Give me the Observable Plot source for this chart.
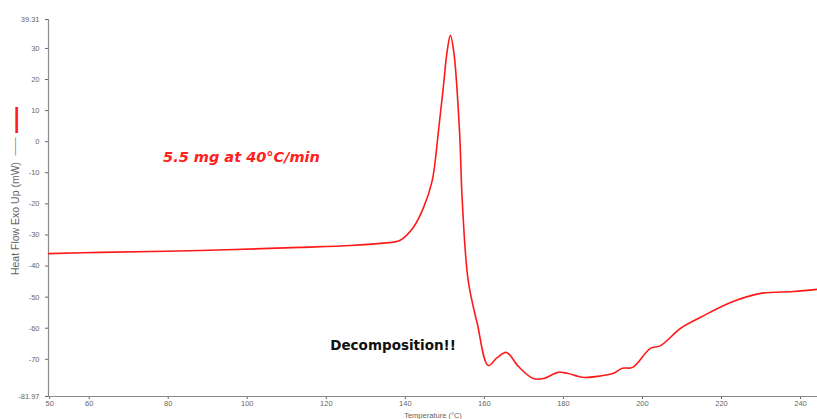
<!DOCTYPE html>
<html>
<head>
<meta charset="utf-8">
<script src="https://cdn.jsdelivr.net/npm/d3@7"></script>
<script src="https://cdn.jsdelivr.net/npm/@observablehq/plot@0.6"></script>
<style>
  html, body { margin: 0; padding: 0; background: #fff; }
  #chart { width: 817px; height: 419px; overflow: hidden; }
</style>
</head>
<body>
<div id="chart"></div>
<script>
// Temperature (°C)
const temperature = [49.7, 62.8, 88.1, 113.4, 126.1, 133.7, 138.7, 142.0, 144.6, 146.8,
  148.4, 149.6, 150.6, 151.4, 152.3, 153.7, 154.4, 155.9, 158.2,
  161.0, 163.3, 165.6, 168.6, 172.4, 174.9, 178.7, 181.0, 184.8, 188.6,
  192.7, 194.9, 197.5, 202.0, 204.6, 209.6, 214.7, 222.3, 229.9, 238.2, 244.3];
// Heat Flow (mW)
const heatFlow = [-36.0, -35.6, -35.0, -34.0, -33.4, -32.7, -31.7, -27.6, -21.2, -12.5,
  3.6, 17.4, 29.3, 34.2, 28.5, 3.6, -18.9, -44.6, -58.5,
  -72.0, -69.4, -67.8, -72.3, -76.2, -76.2, -74.2, -74.5, -75.8, -75.5,
  -74.5, -72.9, -72.6, -66.5, -65.6, -60.1, -56.5, -51.7, -48.8, -48.2, -47.5];
const xTicks = [50, 60, 80, 100, 120, 140, 160, 180, 200, 220, 240];
const yTicks = [-81.97, -70, -60, -50, -40, -30, -20, -10, 0, 10, 20, 30, 39.31];
const xDomain = [49.7, 244.3];
const yDomain = [-81.97, 39.31];
const annotations = [
  {t: 78.7, v: -5.1, label: "5.5 mg at 40°C/min", kind: "rate"},
  {t: 121, v: -65.5, label: "Decomposition!!", kind: "note"}
];

const data = temperature.map((t, i) => ({t, v: heatFlow[i]}));
const grey = "#8a8a8a";
const font = "Liberation Sans, Arial, sans-serif";

const chart = Plot.plot({
  width: 817,
  height: 419,
  marginLeft: 48,
  marginRight: 0,
  marginTop: 19,
  marginBottom: 23,
  style: {fontFamily: font, background: "#fff"},
  x: {domain: xDomain},
  y: {domain: yDomain},
  marks: [
    Plot.axisX({ticks: xTicks, tickSize: 3, tickPadding: 1, tickFormat: d => String(d), fontSize: 7.5, color: "#666",
      label: "Temperature (°C)", labelAnchor: "center", labelArrow: "none", labelOffset: 21.5}),
    Plot.axisY({ticks: yTicks, tickSize: 3, tickFormat: d => Number.isInteger(d) ? String(d) : d.toFixed(2),
      fontSize: 7.5, color: "#666", label: null}),
    Plot.ruleY([yDomain[0]], {stroke: grey, strokeWidth: 1.2}),
    Plot.ruleX([xDomain[0]], {stroke: grey, strokeWidth: 1.2}),
    Plot.line(data, {x: "t", y: "v", stroke: "#ff1a1a", strokeWidth: 1.6, curve: "catmull-rom"}),
    Plot.text(annotations.filter(d => d.kind === "rate"), {x: "t", y: "v", text: "label", textAnchor: "start",
      fill: "#ff2020", fontSize: 14.5, fontWeight: "bold", fontStyle: "italic", fontFamily: "DejaVu Sans, Verdana, sans-serif"}),
    Plot.text(annotations.filter(d => d.kind === "note"), {x: "t", y: "v", text: "label", textAnchor: "start",
      fill: "#111", fontSize: 13.5, fontWeight: "bold", fontFamily: "DejaVu Sans, Verdana, sans-serif"}),
    Plot.text(["Heat Flow Exo Up (mW)"], {frameAnchor: "left", textAnchor: "middle", dx: -33, dy: 10.5, rotate: -90,
      fill: "#666", fontSize: 10.5, fontFamily: "Liberation Sans Narrow, Liberation Sans, sans-serif"}),
    Plot.text(["——"], {frameAnchor: "left", textAnchor: "middle", dx: -33, dy: -61.5, rotate: -90,
      fill: "#666", fontSize: 9}),
    Plot.text(["—"], {frameAnchor: "left", textAnchor: "middle", dx: -33, dy: -88, rotate: -90,
      fill: "#ff1a1a", fontSize: 26, fontWeight: "bold"})
  ]
});
document.getElementById("chart").appendChild(chart);
</script>
</body>
</html>
